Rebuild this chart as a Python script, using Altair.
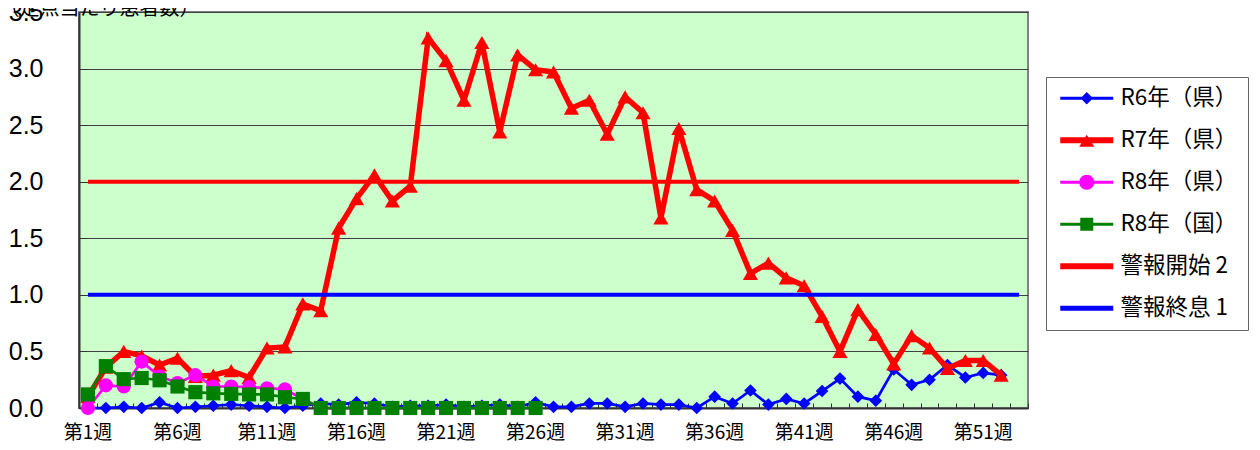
import altair as alt
import pandas as pd

CJK = "Noto Sans CJK JP"

weeks = [f"第{i}週" for i in range(1, 54)]
tick_labels = ["第1週", "第6週", "第11週", "第16週", "第21週", "第26週",
               "第31週", "第36週", "第41週", "第46週", "第51週"]
y_ticks = [0.0, 0.5, 1.0, 1.5, 2.0, 2.5, 3.0, 3.5]

r6 = [0.00, 0.00, 0.01, 0.00, 0.05, 0.00, 0.01, 0.02, 0.03, 0.02,
      0.01, 0.00, 0.02, 0.04, 0.03, 0.05, 0.04, 0.01, 0.02, 0.02,
      0.03, 0.01, 0.02, 0.03, 0.01, 0.05, 0.01, 0.01, 0.04, 0.04,
      0.01, 0.04, 0.03, 0.03, 0.00, 0.10, 0.04, 0.155, 0.03, 0.08,
      0.04, 0.15, 0.26, 0.10, 0.065, 0.34, 0.205, 0.25, 0.38, 0.27,
      0.31, 0.29]
r7 = [0.10, 0.36, 0.50, 0.46, 0.38, 0.44, 0.28, 0.29, 0.33, 0.27,
      0.53, 0.54, 0.92, 0.86, 1.59, 1.85, 2.06, 1.83, 1.96, 3.27,
      3.07, 2.72, 3.23, 2.44, 3.12, 2.99, 2.97, 2.65, 2.72, 2.42,
      2.75, 2.61, 1.68, 2.47, 1.93, 1.83, 1.57, 1.19, 1.28, 1.15,
      1.08, 0.81, 0.50, 0.87, 0.65, 0.39, 0.64, 0.53, 0.35, 0.42,
      0.42, 0.29]
r8_pref = [0.00, 0.20, 0.19, 0.41, 0.28, 0.22, 0.29, 0.19, 0.19, 0.185,
           0.175, 0.165, 0.08, 0.0, 0.0, 0.0, 0.0, 0.0, 0.0, 0.0,
           0.0, 0.0, 0.0, 0.0, 0.0, 0.0]
r8_nat = [0.12, 0.37, 0.255, 0.265, 0.245, 0.19, 0.14, 0.13, 0.125, 0.12,
          0.12, 0.095, 0.08, 0.0, 0.0, 0.0, 0.0, 0.0, 0.0, 0.0,
          0.0, 0.0, 0.0, 0.0, 0.0, 0.0]
alert_start = [2.0, 2.0]
alert_end = [1.0, 1.0]
alert_weeks = ["第1週", "第53週"]

series_names = ["R6年（県）", "R7年（県）", "R8年（県）", "R8年（国）", "警報開始 2", "警報終息 1"]
series_colors = ["#0000FF", "#FF0000", "#FF00FF", "#008000", "#FF0000", "#0000FF"]
legend_paths = [
    "M-0.7,-0.14H4.6V0.14H-0.7Z M1.95,-0.62L2.57,0L1.95,0.62L1.33,0Z",
    "M-0.7,-0.3H4.6V0.3H-0.7Z M1.95,-0.55L2.7,0.65L1.2,0.65Z",
    "M-0.7,-0.14H4.6V0.14H-0.7Z M1.2,0A0.75,0.75 0 1,1 2.7,0A0.75,0.75 0 1,1 1.2,0Z",
    "M-0.7,-0.14H4.6V0.14H-0.7Z M1.3,-0.65H2.6V0.65H1.3Z",
    "M-0.7,-0.3H4.6V0.3H-0.7Z",
    "M-0.7,-0.25H4.6V0.25H-0.7Z",
]


def frame(vals, labels=None):
    labels = labels if labels is not None else weeks[:len(vals)]
    return pd.DataFrame({"week": labels, "value": vals})


x_scale = alt.Scale(domain=weeks, type="band", paddingInner=0, paddingOuter=0)
y_scale = alt.Scale(domain=[0, 3.5], nice=False, zero=True)

main_x_axis = alt.Axis(orient="bottom", values=tick_labels, ticks=False, domain=True,
                       domainColor="#333333", domainWidth=2, labelFont=CJK,
                       labelFontSize=19, labelPadding=15, labelBaseline="top",
                       labelAngle=0, labelColor="black", grid=False, title=None)
main_y_axis = alt.Axis(orient="left", values=y_ticks, format=".1f", ticks=False, domain=True,
                       domainColor="#333333", domainWidth=2, labelFont="Liberation Sans",
                       labelFontSize=25, labelPadding=36, labelColor="black", grid=True,
                       gridColor="#404040", gridWidth=1, title="（定点当たり患者数）",
                       titleAngle=0, titleAlign="left", titleBaseline="alphabetic",
                       titleX=-80, titleY=2, titleFont=CJK, titleFontSize=20,
                       titleFontWeight="normal", titleColor="black")
tick_x_axis = alt.Axis(orient="bottom", offset=-5, ticks=True, tickSize=5, tickBand="extent",
                       tickColor="#333333", tickWidth=1, labels=False, domain=False,
                       grid=False, title=None)
tick_y_axis = alt.Axis(orient="left", values=y_ticks, offset=-8, ticks=True, tickSize=8,
                       tickColor="#333333", tickWidth=1, labels=False, domain=False,
                       grid=False, title=None)

xm = alt.X("week:N", scale=x_scale, axis=main_x_axis)
ym = alt.Y("value:Q", scale=y_scale, axis=main_y_axis)

# bottom layer carries the inward tick axes
base_r6_line = alt.Chart(frame(r6)).mark_line(color="#0000FF", strokeWidth=2.7).encode(
    x=alt.X("week:N", scale=x_scale, axis=tick_x_axis),
    y=alt.Y("value:Q", scale=y_scale, axis=tick_y_axis),
)

layers = [
    alt.Chart(frame(r6)).mark_point(shape="diamond", filled=True, size=160, color="#0000FF", opacity=1).encode(x=xm, y=ym),
    alt.Chart(frame(r7)).mark_line(color="#FF0000", strokeWidth=5.5).encode(x=xm, y=ym),
    alt.Chart(frame(r7)).mark_point(shape="triangle-up", filled=True, size=230, color="#FF0000", opacity=1).encode(x=xm, y=ym),
    alt.Chart(frame(r8_pref)).mark_line(color="#FF00FF", strokeWidth=2.7).encode(x=xm, y=ym),
    alt.Chart(frame(r8_pref)).mark_point(shape="circle", filled=True, size=200, color="#FF00FF", opacity=1).encode(x=xm, y=ym),
    alt.Chart(frame(r8_nat)).mark_line(color="#008000", strokeWidth=2.7).encode(x=xm, y=ym),
    alt.Chart(frame(r8_nat)).mark_point(shape="square", filled=True, size=200, color="#008000", opacity=1).encode(x=xm, y=ym),
    alt.Chart(frame(alert_start, alert_weeks)).mark_line(color="#FF0000", strokeWidth=4).encode(x=xm, y=ym),
    alt.Chart(frame(alert_end, alert_weeks)).mark_line(color="#0000FF", strokeWidth=4).encode(x=xm, y=ym),
]
main = alt.layer(*layers)

legend = alt.Legend(title=None, orient="none", legendX=967, legendY=65, padding=10,
                    strokeColor="#666666", fillColor="white", labelFont=CJK,
                    labelFontSize=22.5, labelColor="black", symbolSize=400,
                    symbolStrokeWidth=0, rowPadding=19, labelOffset=42)
legend_layer = alt.Chart(pd.DataFrame({"series": series_names})).transform_filter(
    "false").mark_point(filled=True, opacity=1).encode(
    color=alt.Color("series:N", scale=alt.Scale(domain=series_names, range=series_colors), legend=legend),
    shape=alt.Shape("series:N", scale=alt.Scale(domain=series_names, range=legend_paths), legend=legend),
)

chart = alt.layer(base_r6_line, main, legend_layer).resolve_axis(
    x="independent", y="independent"
).properties(
    width=949, height=396,
    autosize=alt.AutoSizeParams(type="none"),
    padding={"left": 71, "top": 4, "right": 224, "bottom": 34},
    background="white",
    view=alt.ViewBackground(fill="#CCFFCC", stroke="#808080", strokeWidth=2),
).configure_view(fill="#CCFFCC", stroke="#808080", strokeWidth=2)

chart.save("out.html", embed_options={"renderer": "svg", "actions": False})
